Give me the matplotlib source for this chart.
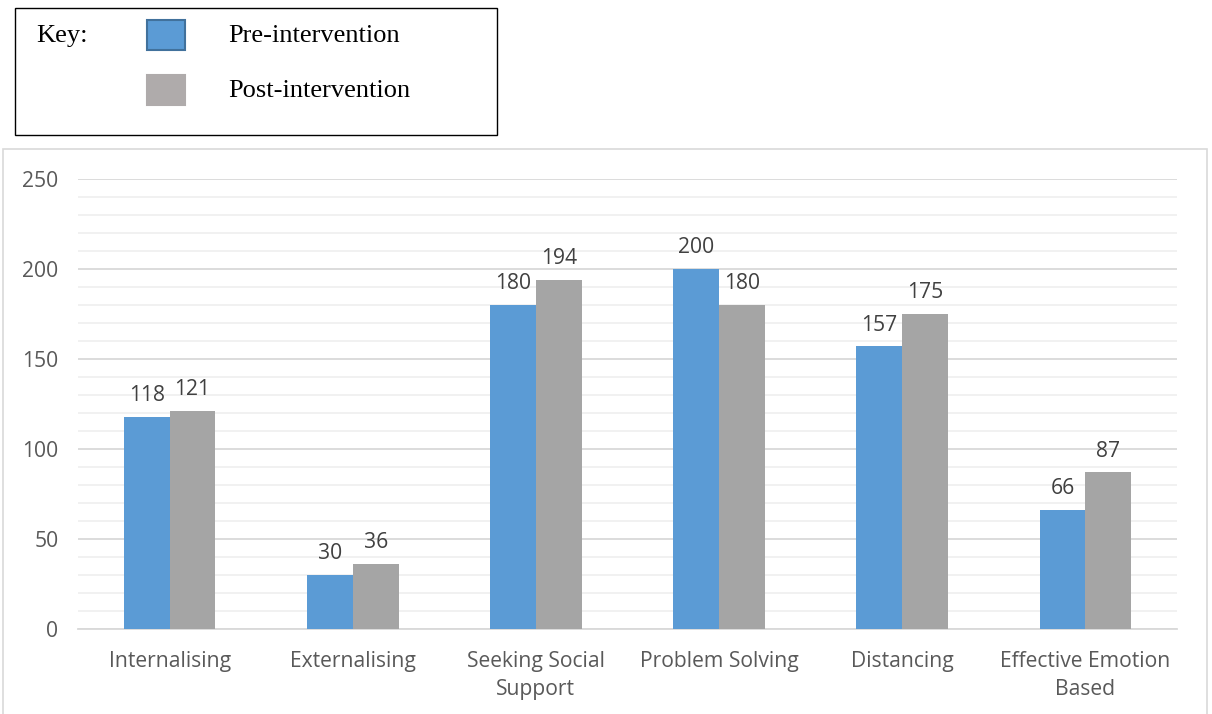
import numpy as np
import matplotlib
matplotlib.use("Agg")
from matplotlib import pyplot as plt
from matplotlib.patches import Rectangle

# data
categories = ["Internalising", "Externalising", "Seeking Social\nSupport",
              "Problem Solving", "Distancing", "Effective Emotion\nBased"]
pre = [118, 30, 180, 200, 157, 66]
post = [121, 36, 194, 180, 175, 87]
series_names = ["Pre-intervention", "Post-intervention"]

W, H = 1212, 714
fig = plt.figure(figsize=(W / 100, H / 100), dpi=100)
fig.patch.set_facecolor("white")

# outer chart border (bottom edge is cut off in the reference)
fig.patches.append(Rectangle((3 / W, -0.02), 1204 / W, 1 - 149 / H + 0.02, transform=fig.transFigure,
                             fill=False, edgecolor="#d9d9d9", linewidth=1.2))

# plot area
left, right, top, bottom = 78, 1177, 179, 629
ax = fig.add_axes([left / W, 1 - bottom / H, (right - left) / W, (bottom - top) / H])

fs = 15.2
x = np.arange(len(categories))
bw = 0.25
ax.bar(x - bw / 2, pre, bw, color="#5b9bd5", zorder=3)
ax.bar(x + bw / 2, post, bw, color="#a5a5a5", zorder=3)

for xi, v in zip(x - bw / 2, pre):
    ax.text(xi, v + 6, str(v), ha="center", va="bottom", fontsize=fs,
            color="#404040", family="Open Sans")
for xi, v in zip(x + bw / 2, post):
    ax.text(xi, v + 6, str(v), ha="center", va="bottom", fontsize=fs,
            color="#404040", family="Open Sans")

ax.set_xlim(-0.5, len(categories) - 0.5)
ax.set_ylim(0, 250)
ax.set_yticks(np.arange(0, 251, 50))
ax.set_yticks(np.arange(0, 251, 10), minor=True)
ax.grid(axis="y", which="major", color="#d9d9d9", linewidth=1.3, zorder=0)
ax.grid(axis="y", which="minor", color="#f0f0f0", linewidth=1.3, zorder=0)
ax.tick_params(axis="y", which="both", length=0, pad=14, labelsize=fs, labelcolor="#595959")
ax.set_xticks(x)
ax.set_xticklabels(categories, fontsize=fs, color="#595959", family="Open Sans",
                   linespacing=1.4)
ax.tick_params(axis="x", length=0, pad=16)
for lab in ax.get_yticklabels():
    lab.set_family("Open Sans")
for s in ["top", "right", "left"]:
    ax.spines[s].set_visible(False)
ax.spines["bottom"].set_color("#d9d9d9")
ax.spines["bottom"].set_linewidth(1.3)

# key box
fig.patches.append(Rectangle((15 / W, 1 - 135 / H), 482 / W, 127 / H, transform=fig.transFigure,
                             fill=False, edgecolor="black", linewidth=1.0))
fig.text(36 / W, 1 - 36 / H, "Key:", fontsize=19, family="Liberation Serif", va="center")
key_colors = [("#5b9bd5", "#41719c"), ("#afabab", "#afabab")]
for i, (name, (fc, ec)) in enumerate(zip(series_names, key_colors)):
    yc = 35 + 55 * i
    fig.patches.append(Rectangle((147 / W, 1 - (yc + 15) / H), 38 / W, 30 / H,
                                 transform=fig.transFigure, facecolor=fc, edgecolor=ec, linewidth=1.5))
    fig.text(228 / W, 1 - (yc + 1) / H, name, fontsize=19, family="Liberation Serif", va="center")

fig.savefig("out.png", dpi=100)
